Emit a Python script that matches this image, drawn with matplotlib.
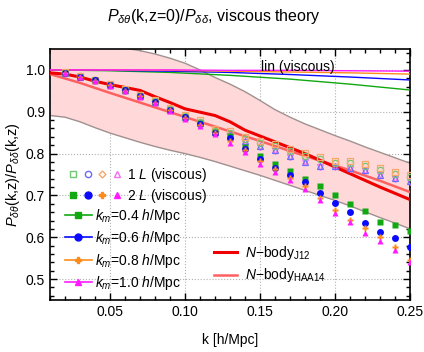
import matplotlib
matplotlib.use('Agg')
import matplotlib.pyplot as plt
import numpy as np
from matplotlib.lines import Line2D
from matplotlib.legend_handler import HandlerTuple
from matplotlib.ticker import MultipleLocator, FormatStrFormatter

plt.rcParams['font.family'] = ['Liberation Sans', 'DejaVu Sans']
plt.rcParams['mathtext.fontset'] = 'custom'
plt.rcParams['mathtext.rm'] = 'Liberation Sans'
plt.rcParams['mathtext.it'] = 'Liberation Sans:italic'
plt.rcParams['mathtext.bf'] = 'Liberation Sans:bold'

# ---- data ----
k_pt = [0.02, 0.03, 0.04, 0.05, 0.06, 0.07, 0.08, 0.09, 0.10, 0.11, 0.12, 0.13,
        0.14, 0.15, 0.16, 0.17, 0.18, 0.19, 0.20, 0.21, 0.22, 0.23, 0.24, 0.25]

# 1-loop viscous (open markers)
one_l_orange = [0.994, 0.986, 0.977, 0.966, 0.954, 0.941, 0.927, 0.910, 0.893, 0.881, 0.858, 0.853,
                0.840, 0.831, 0.822, 0.811, 0.801, 0.792, 0.783, 0.782, 0.776, 0.765, 0.755, 0.748]
one_l_green = [0.993, 0.985, 0.976, 0.965, 0.953, 0.940, 0.925, 0.907, 0.890, 0.876, 0.855, 0.849,
               0.836, 0.826, 0.817, 0.805, 0.795, 0.786, 0.778, 0.777, 0.771, 0.760, 0.751, 0.743]
one_l_blue = [0.992, 0.984, 0.975, 0.964, 0.951, 0.938, 0.923, 0.905, 0.887, 0.872, 0.851, 0.844,
              0.830, 0.818, 0.808, 0.795, 0.781, 0.770, 0.770, 0.765, 0.760, 0.750, 0.742, 0.735]
one_l_magenta = [0.991, 0.983, 0.974, 0.963, 0.950, 0.937, 0.922, 0.904, 0.886, 0.870, 0.849, 0.842,
                 0.828, 0.816, 0.806, 0.793, 0.779, 0.768, 0.768, 0.763, 0.758, 0.748, 0.740, 0.733]

# 2-loop viscous (filled markers)
two_l_green = [0.993, 0.984, 0.975, 0.964, 0.951, 0.938, 0.923, 0.905, 0.887, 0.874, 0.852, 0.842,
               0.816, 0.795, 0.774, 0.759, 0.739, 0.723, 0.700, 0.679, 0.663, 0.636, 0.629, 0.616]
two_l_blue = [0.993, 0.984, 0.975, 0.964, 0.951, 0.938, 0.923, 0.905, 0.887, 0.871, 0.850, 0.838,
              0.810, 0.787, 0.766, 0.748, 0.731, 0.705, 0.683, 0.660, 0.634, 0.612, 0.599, 0.576]
two_l_orange = [0.992, 0.983, 0.974, 0.963, 0.950, 0.937, 0.922, 0.903, 0.885, 0.869, 0.849, 0.830,
                0.808, 0.782, 0.762, 0.742, 0.722, 0.695, 0.666, 0.641, 0.623, 0.601, 0.576, 0.546]
two_l_magenta = [0.992, 0.983, 0.973, 0.962, 0.949, 0.935, 0.920, 0.901, 0.883, 0.866, 0.846, 0.826,
                 0.804, 0.776, 0.757, 0.736, 0.716, 0.689, 0.659, 0.637, 0.611, 0.590, 0.569, 0.540]

# linear (viscous)
k_lin = [0.01, 0.05, 0.09, 0.13, 0.17, 0.21, 0.25]
lin_green = [1.000, 0.998, 0.994, 0.987, 0.978, 0.966, 0.952]
lin_blue = [1.000, 0.999, 0.997, 0.994, 0.989, 0.983, 0.976]
lin_orange = [1.000, 1.000, 0.999, 0.997, 0.995, 0.993, 0.990]
lin_magenta = [1.000, 1.000, 1.000, 0.999, 0.999, 0.998, 0.997]

# N-body
k_nb = [0.01, 0.02, 0.03, 0.04, 0.05, 0.06, 0.07, 0.08, 0.09, 0.10, 0.11, 0.12, 0.13,
        0.14, 0.15, 0.16, 0.17, 0.18, 0.19, 0.20, 0.21, 0.22, 0.23, 0.24, 0.25]
nbody_j12 = [0.993, 0.990, 0.983, 0.973, 0.965, 0.958, 0.951, 0.936, 0.922, 0.907, 0.899, 0.891, 0.876,
             0.856, 0.842, 0.828, 0.814, 0.800, 0.784, 0.768, 0.752, 0.736, 0.720, 0.705, 0.690]
k_haa = [0.01, 0.03, 0.05, 0.07, 0.09, 0.11, 0.13, 0.15, 0.17, 0.19, 0.21, 0.23, 0.25]
nbody_haa14 = [0.990, 0.969, 0.945, 0.922, 0.899, 0.876, 0.853, 0.830, 0.806, 0.783, 0.760, 0.735, 0.708]

# shaded band
band_upper = [1.092, 1.089, 1.082, 1.072, 1.060, 1.052, 1.046, 1.038, 1.028, 1.016, 1.000, 0.982, 0.966,
              0.948, 0.927, 0.905, 0.887, 0.871, 0.857, 0.843, 0.830, 0.816, 0.803, 0.790, 0.777]
band_lower = [0.891, 0.887, 0.876, 0.862, 0.849, 0.838, 0.827, 0.817, 0.808, 0.800, 0.791, 0.781, 0.770,
              0.759, 0.748, 0.736, 0.724, 0.712, 0.700, 0.688, 0.675, 0.661, 0.647, 0.634, 0.620]

GREEN, BLUE, ORANGE, MAGENTA = '#11a811', '#0a0aff', '#ff8c1a', '#ff1aff'
L_GREEN, L_BLUE, L_ORANGE, L_MAGENTA = '#70c870', '#6a6aff', '#f5a868', '#f070f0'

fig = plt.figure(figsize=(4.24, 3.52), dpi=100)
ax = fig.add_axes([50 / 424, 1 - 300 / 352, 360 / 424, 251 / 352])

ax.fill_between(k_nb, band_lower, band_upper, color='#ffd9d9', lw=0, zorder=1)
ax.plot(k_nb, band_upper, color='#a09090', lw=1.0, zorder=2)
ax.plot(k_nb, band_lower, color='#a09090', lw=1.0, zorder=2)

ax.plot(k_lin, lin_green, color=GREEN, lw=1.0, zorder=3)
ax.plot(k_lin, lin_blue, color=BLUE, lw=1.0, zorder=3)
ax.plot(k_lin, lin_orange, color=ORANGE, lw=1.0, zorder=3)
ax.plot(k_lin, lin_magenta, color=MAGENTA, lw=1.0, zorder=3)

ax.plot(k_haa, nbody_haa14, color='#ff6060', lw=1.8, zorder=4)
ax.plot(k_nb, nbody_j12, color='#ee0000', lw=2.2, zorder=4)

ms = 4.5
ax.plot(k_pt, one_l_magenta, ls='none', marker='v', ms=ms, mfc='none', mec=L_MAGENTA, mew=0.9, zorder=5)
ax.plot(k_pt, one_l_blue, ls='none', marker='^', ms=ms, mfc='none', mec=L_BLUE, mew=0.9, zorder=5)
ax.plot(k_pt, one_l_green, ls='none', marker='o', ms=ms, mfc='none', mec=L_GREEN, mew=0.9, zorder=5)
ax.plot(k_pt, one_l_orange, ls='none', marker='s', ms=ms, mfc='none', mec=L_ORANGE, mew=0.9, zorder=5)

ax.plot(k_pt, two_l_green, ls='none', marker='s', ms=4.2, color=GREEN, mec='none', zorder=6)
ax.plot(k_pt, two_l_blue, ls='none', marker='o', ms=5.0, color=BLUE, mec='none', zorder=6)
ax.plot(k_pt, two_l_orange, ls='none', marker='P', ms=5.0, color=ORANGE, mec='none', zorder=6)
ax.plot(k_pt, two_l_magenta, ls='none', marker='^', ms=4.5, color=MAGENTA, mec='none', zorder=6)

ax.text(0.689, 0.929, 'lin (viscous)', transform=ax.transAxes, ha='center', va='center',
        fontsize=10, zorder=7)

# axes styling
ax.set_xlim(0.01, 0.25)
ax.set_ylim(0.45, 1.05)
ax.xaxis.set_major_locator(MultipleLocator(0.05))
ax.xaxis.set_minor_locator(MultipleLocator(0.01))
ax.yaxis.set_major_locator(MultipleLocator(0.1))
ax.yaxis.set_minor_locator(MultipleLocator(0.02))
ax.xaxis.set_major_formatter(FormatStrFormatter('%.2f'))
ax.yaxis.set_major_formatter(FormatStrFormatter('%.1f'))
ax.tick_params(which='both', direction='in', top=True, right=True, labelsize=10, width=1.0)
ax.tick_params(which='major', length=5)
ax.tick_params(which='minor', length=3)
for sp in ax.spines.values():
    sp.set_linewidth(1.2)
ax.grid(which='major', ls=':', color='#b0b0b0', lw=0.8)
ax.set_axisbelow(True)

ax.set_xlabel('k [h/Mpc]', fontsize=10, labelpad=10)
ax.set_ylabel(r'$P_{\delta\theta}$(k,z)/$P_{\delta\delta}$(k,z)', fontsize=10.5, labelpad=3)
fig.suptitle(r'$P_{\delta\theta}$(k,z=0)/$P_{\delta\delta}$, viscous theory', fontsize=11.5,
             x=0.505, y=0.953, va='center')

# legends
mk = dict(ls='none', ms=4.5)
open_h = (Line2D([], [], marker='s', mfc='none', mec=L_GREEN, **mk),
          Line2D([], [], marker='o', mfc='none', mec=L_BLUE, **mk),
          Line2D([], [], marker='D', mfc='none', mec=L_ORANGE, ms=3.5, ls='none'),
          Line2D([], [], marker='^', mfc='none', mec=L_MAGENTA, **mk))
fill_h = (Line2D([], [], marker='s', color=GREEN, ls='none', ms=4.2),
          Line2D([], [], marker='o', color=BLUE, ls='none', ms=5),
          Line2D([], [], marker='P', color=ORANGE, ls='none', ms=5),
          Line2D([], [], marker='^', color=MAGENTA, ls='none', ms=4.5))
legA = ax.legend([open_h, fill_h], [r'1 $L$ (viscous)', r'2 $L$ (viscous)'],
                 handler_map={tuple: HandlerTuple(ndivide=None, pad=0)},
                 loc='upper left', bbox_to_anchor=(0.042, 0.535), frameon=False, fontsize=10,
                 handlelength=4.3, handletextpad=0.15, borderpad=0, borderaxespad=0,
                 labelspacing=0.25)
ax.add_artist(legA)

km_h = [Line2D([], [], color=GREEN, marker='s', ms=4.2, lw=1.2),
        Line2D([], [], color=BLUE, marker='o', ms=5, lw=1.2),
        Line2D([], [], color=ORANGE, marker='P', ms=5, lw=1.2),
        Line2D([], [], color=MAGENTA, marker='^', ms=4.5, lw=1.2)]
km_labels = [r'$k_m$=0.4 $h$/Mpc', r'$k_m$=0.6 $h$/Mpc', r'$k_m$=0.8 $h$/Mpc', r'$k_m$=1.0 $h$/Mpc']
legB = ax.legend(km_h, km_labels, loc='upper left', bbox_to_anchor=(0.042, 0.372), frameon=False,
                 fontsize=10, handlelength=1.9, handletextpad=0.25, borderpad=0, borderaxespad=0,
                 labelspacing=0.32)
ax.add_artist(legB)

nb_h = [Line2D([], [], color='#ee0000', lw=2.2), Line2D([], [], color='#ff6060', lw=1.8)]
nb_labels = [r'$N$$-$body$_{\mathrm{J12}}$', r'$N$$-$body$_{\mathrm{HAA14}}$']
ax.legend(nb_h, nb_labels, loc='upper left', bbox_to_anchor=(0.456, 0.222), frameon=False,
          fontsize=10, handlelength=1.65, handletextpad=0.55, borderpad=0, borderaxespad=0,
          labelspacing=0.3)

fig.savefig('out.png', dpi=100)
